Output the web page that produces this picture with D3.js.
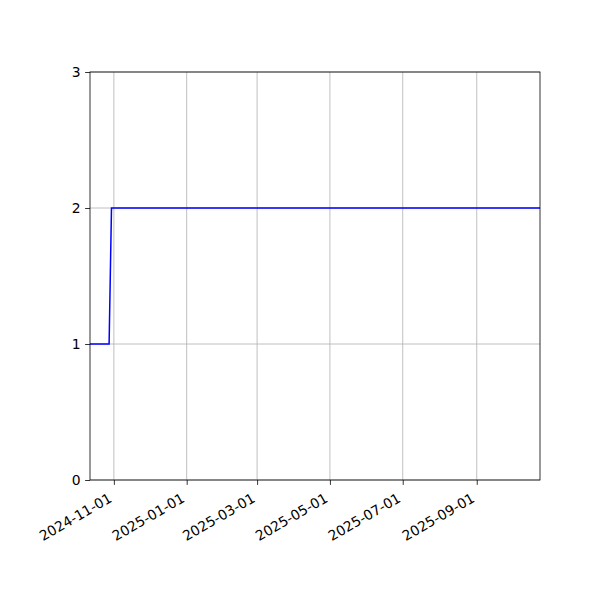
<!DOCTYPE html>
<html>
<head>
<meta charset="utf-8">
<script src="https://cdn.jsdelivr.net/npm/d3@7"></script>
<style>
  body { margin: 0; background: #fff; }
  svg text { font-family: "DejaVu Sans", sans-serif; }
</style>
</head>
<body>
<svg id="chart" width="600" height="600"></svg>
<script>
// data
const dates = ["2024-10-12", "2024-10-28", "2024-10-30", "2025-10-24"];
const values = [1, 1, 2, 2];
const xTicks = ["2024-11-01", "2025-01-01", "2025-03-01", "2025-05-01", "2025-07-01", "2025-09-01"];
const yTicks = [0, 1, 2, 3];

const parse = d3.utcParse("%Y-%m-%d");
const fmt = d3.utcFormat("%Y-%m-%d");
const points = dates.map((d, i) => ({ time: parse(d), value: values[i] }));

const margin = { top: 72, right: 60, bottom: 120, left: 90 };
const width = 600 - margin.left - margin.right,
      height = 600 - margin.top - margin.bottom;

const svg = d3.select("#chart");
const chart = svg.append("g").attr("transform", `translate(${margin.left},${margin.top})`);

let x = d3.scaleUtc().domain(d3.extent(points, d => d.time)).range([0, width]);
let y = d3.scaleLinear().domain([0, 3]).range([height, 0]);

// grid
chart.append("g").selectAll("line")
    .data(xTicks.map(parse))
    .join("line")
    .attr("x1", d => x(d)).attr("x2", d => x(d))
    .attr("y1", 0).attr("y2", height)
    .attr("stroke", "#b0b0b0").attr("stroke-width", 0.8);
chart.append("g").selectAll("line")
    .data(yTicks)
    .join("line")
    .attr("x1", 0).attr("x2", width)
    .attr("y1", d => y(d)).attr("y2", d => y(d))
    .attr("stroke", "#b0b0b0").attr("stroke-width", 0.8);

// line
let line = d3.line()
    .x(d => x(d.time))
    .y(d => y(d.value));

chart.append("path")
    .datum(points)
    .attr("d", line)
    .attr("fill", "none")
    .attr("stroke", "#0000ff")
    .attr("stroke-width", 1.5);

// frame
chart.append("rect")
    .attr("width", width).attr("height", height)
    .attr("fill", "none").attr("stroke", "black").attr("stroke-width", 0.8);

// axes
const xAxis = chart.append("g")
    .attr("transform", `translate(0,${height})`)
    .call(d3.axisBottom(x).tickValues(xTicks.map(parse)).tickFormat(fmt).tickSize(4.9));
xAxis.select(".domain").remove();
xAxis.selectAll(".tick line").attr("stroke-width", 0.8);
xAxis.selectAll(".tick text")
    .attr("font-size", "13.9px")
    .attr("fill", "black")
    .attr("text-anchor", "end")
    .attr("x", 0).attr("y", 0).attr("dy", 0)
    .attr("transform", "translate(-1.5,21) rotate(-30)");

const yAxis = chart.append("g")
    .call(d3.axisLeft(y).tickValues(yTicks).tickFormat(d3.format("d")).tickSize(4.9).tickPadding(4.5));
yAxis.select(".domain").remove();
yAxis.selectAll(".tick line").attr("stroke-width", 0.8);
yAxis.selectAll(".tick text")
    .attr("font-size", "13.9px")
    .attr("fill", "black");
</script>
</body>
</html>
